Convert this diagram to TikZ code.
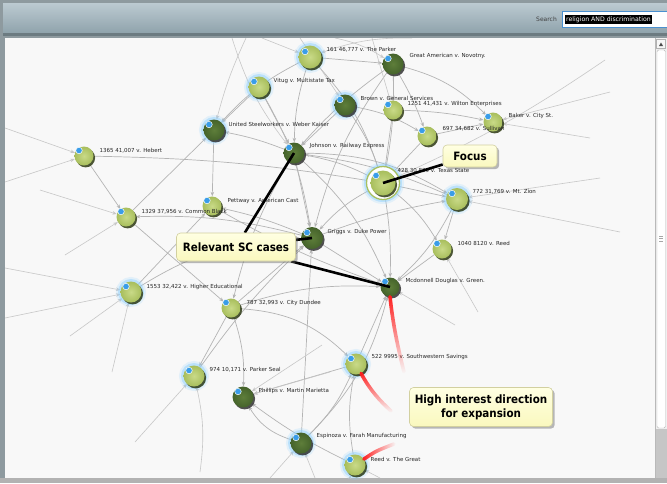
\documentclass[tikz,border=0pt]{standalone}
\usepackage{fontspec}
\setmainfont{DejaVu Sans}
\newfontfamily\callfont[FakeStretch=0.9]{DejaVu Sans}
\usetikzlibrary{arrows.meta,shadows,fadings,calc}
\definecolor{lgHi}{HTML}{C9DA88}
\definecolor{lgLo}{HTML}{A8BE5C}
\definecolor{dgHi}{HTML}{5E7E3A}
\definecolor{dgLo}{HTML}{45632B}
\definecolor{glowc}{HTML}{8CD0FF}
\definecolor{badgec}{HTML}{3A9DE8}
\definecolor{edgec}{HTML}{B4B4B4}
\definecolor{calltop}{HTML}{FFFFE2}
\definecolor{callbot}{HTML}{FAF8BE}
\definecolor{callborder}{HTML}{D2D0A0}
\definecolor{hdrtop}{HTML}{BCCAD1}
\definecolor{hdrbot}{HTML}{8FA3AC}
\definecolor{hdrline}{HTML}{6C7B81}
\definecolor{framec}{HTML}{8E9A9F}
\definecolor{canvasc}{HTML}{F8F8F8}
\definecolor{focusring}{HTML}{A8C060}
\definecolor{redc}{HTML}{FF1E1E}
\definecolor{fieldborder}{HTML}{4A90D0}
\definecolor{shadowc}{HTML}{2E3A14}
\pgfdeclarelayer{back}
\pgfdeclarelayer{edges}
\pgfdeclarelayer{lines}
\pgfdeclarelayer{front}
\pgfsetlayers{back,edges,main,lines,front}
\begin{document}
\begin{tikzpicture}[x=1pt,y=-1pt,
  ballbase/.style={circle, inner sep=0pt, minimum size=21pt},
  lball/.style={ballbase, inner color=lgHi, outer color=lgLo,
    preaction={fill=shadowc, opacity=0.85, transform canvas={shift={(1.6pt,-1.9pt)}}}},
  dball/.style={ballbase, inner color=dgHi, outer color=dgLo,
    preaction={fill=black!80, opacity=0.85, transform canvas={shift={(1.6pt,-1.9pt)}}}},
  glow/.style={preaction={draw=glowc, line width=9pt, draw opacity=0.2},
    preaction={draw=glowc, line width=5pt, draw opacity=0.45}},
  badge/.style={circle, inner sep=0pt, minimum size=6.5pt, fill=badgec, draw=white, line width=0.5pt},
  lab/.style={anchor=west, inner sep=0.5pt, font=\fontsize{5.5}{6}\selectfont, text=black!85},
  lnk/.style={draw=edgec, line width=0.7pt, -{Stealth[length=4.5pt,width=3.5pt]}},
  lnkfade/.style={draw=edgec!75, line width=0.6pt},
  callout/.style={rounded corners=4pt, top color=calltop, bottom color=callbot, draw=callborder,
    line width=0.6pt, drop shadow={shadow xshift=2.2pt, shadow yshift=-2.2pt, opacity=0.45, fill=black!60},
    font=\callfont\bfseries\fontsize{11.5}{14}\selectfont, align=center, inner sep=3pt},
  callline/.style={draw=black, line width=2.6pt},
  redline/.style={draw=redc, line width=3.6pt, line cap=round}
]
\useasboundingbox (0,0) rectangle (667,483);

% ---------- frame, header, canvas, scrollbar ----------
\begin{pgfonlayer}{back}
\fill[framec] (0,0) rectangle (667,483);
\shade[top color=hdrtop, bottom color=hdrbot] (3,3) rectangle (667,33);
\fill[hdrline] (3,33) rectangle (667,36);
\fill[canvasc] (5,38) rectangle (655,478);
\fill[gray!12] (655,38) rectangle (667,478);
\draw[gray!55] (655.5,38) -- (655.5,478);
\draw[gray!55, fill=white, rounded corners=1.5pt] (657,50) rectangle (665.5,428);
\fill[gray!45] (656,429) rectangle (667,478);
\fill[gray!60] (0,478) rectangle (667,483);
\end{pgfonlayer}

\node[draw=gray!60, fill=gray!6, minimum width=9pt, minimum height=9pt, inner sep=0pt] (upbtn) at (661,44) {};
\fill[black!70] (659,46) -- (663,46) -- (661,42.5) -- cycle;
\draw[gray!70, line width=0.5pt] (659,236) -- (663,236) (659,238.5) -- (663,238.5) (659,241) -- (663,241);

\node[anchor=east, inner sep=0pt, font=\fontsize{6}{7}\selectfont, text=black!75] (searchlbl) at (557,19.5) {Search};
\node[anchor=west, draw=fieldborder, line width=0.8pt, fill=white, minimum width=110pt, minimum height=16pt, inner sep=0pt] (field) at (562,19.5) {};
\node[anchor=west, fill=black, text=white, inner xsep=1pt, inner ysep=1.5pt, font=\fontsize{6.2}{7}\selectfont] (query) at (565,19.5) {religion AND discrimination};

% ---------- case nodes ----------
\node[glow, lball, minimum size=23pt] (parker) at (310,57) {};
\node[dball] (great) at (393,64) {};
\node[glow, lball] (vitug) at (259,87) {};
\node[glow, dball] (brown) at (345,105) {};
\node[lball, minimum size=19pt] (wilton) at (393,110) {};
\node[lball, minimum size=19pt] (baker) at (493,122) {};
\node[lball, minimum size=19pt] (sullivan) at (427,136) {};
\node[glow, dball] (steel) at (214,130) {};
\node[dball] (johnson) at (294,153) {};
\node[lball, minimum size=19pt] (hebert) at (84,156) {};
\node[glow, circle, fill=white, draw=focusring, line width=1.3pt, minimum size=33pt, inner sep=0pt] (focusring) at (383,183) {};
\node[lball, minimum size=25pt] (focus) at (383,183) {};
\node[glow, lball, minimum size=22pt] (mtzion) at (457,199) {};
\node[lball, minimum size=19pt] (pettway) at (212,206) {};
\node[lball, minimum size=19pt] (common) at (126,217) {};
\node[dball, minimum size=22pt] (griggs) at (312,238) {};
\node[lball, minimum size=19pt] (reedten) at (442,249) {};
\node[dball, minimum size=19pt] (mcd) at (390,287) {};
\node[glow, lball] (higher) at (131,292) {};
\node[lball, minimum size=19pt] (dundee) at (231,308) {};
\node[glow, lball] (swest) at (356,364) {};
\node[glow, lball] (pseal) at (194,376) {};
\node[dball] (phillips) at (243,397) {};
\node[glow, dball] (espinoza) at (301,443) {};
\node[glow, lball] (reedgreat) at (355,465) {};

\foreach \n in {parker,great,vitug,brown,wilton,baker,sullivan,steel,johnson,hebert,mtzion,pettway,common,griggs,reedten,mcd,higher,dundee,swest,pseal,phillips,espinoza,reedgreat}
  \node[badge] (b-\n) at ($(\n)+(-5,-5.5)$) {};
\node[badge] (b-focus) at ($(focus)+(-7,-7.5)$) {};

% ---------- labels ----------
\node[lab] (l-parker) at (326,50) {161 46,777 v. The Parker};
\node[lab] (l-great) at (409,56) {Great American v. Novotny.};
\node[lab] (l-vitug) at (273,81) {Vitug v. Multistate Tax};
\node[lab] (l-brown) at (360,98) {Brown v. General Services};
\node[lab] (l-wilton) at (407,104) {1251 41,431 v. Wilton Enterprises};
\node[lab] (l-baker) at (508,116) {Baker v. City St.};
\node[lab] (l-sullivan) at (442,129) {697 34,682 v. Sullivan};
\node[lab] (l-steel) at (228,124) {United Steelworkers v. Weber Kaiser};
\node[lab] (l-johnson) at (309,146) {Johnson v. Railway Express};
\node[lab] (l-hebert) at (99,151) {1365 41,007 v. Hebert};
\node[lab] (l-focus) at (397,171) {428 30,839 v. Texas State};
\node[lab] (l-mtzion) at (472,192) {772 31,769 v. Mt. Zion};
\node[lab] (l-pettway) at (227,201) {Pettway v. American Cast};
\node[lab] (l-common) at (141,212) {1329 37,956 v. Common Black};
\node[lab] (l-griggs) at (327,232) {Griggs v. Duke Power};
\node[lab] (l-reedten) at (457,243) {1040 8120 v. Reed};
\node[lab] (l-mcd) at (405,281) {Mcdonnell Douglas v. Green.};
\node[lab] (l-higher) at (146,287) {1553 32,422 v. Higher Educational};
\node[lab] (l-dundee) at (246,303) {787 32,993 v. City Dundee};
\node[lab] (l-swest) at (371,357) {522 9995 v. Southwestern Savings};
\node[lab] (l-pseal) at (209,370) {974 10,171 v. Parker Seal};
\node[lab] (l-phillips) at (258,391) {Phillips v. Martin Marietta};
\node[lab] (l-espinoza) at (316,436) {Espinoza v. Farah Manufacturing};
\node[lab] (l-reedgreat) at (370,459) {Reed v. The Great};

% ---------- gray citation edges ----------
\begin{pgfonlayer}{edges}
\begin{scope}
\clip (5,38) rectangle (655,478);
\draw[lnk] (parker) to[bend right=8] (johnson);
\draw[lnk] (vitug) to (johnson);
\draw[lnk] (parker) to (great);
\draw[lnk] (parker) to[bend left=12] (focus);
\draw[lnk] (great) to[bend left=6] (focus);
\draw[lnk] (great) to[bend right=6] (johnson);
\draw[lnk] (great) to[bend right=10] (griggs);
\draw[lnk] (great) to (wilton);
\draw[lnk] (great) to[bend left=15] (baker);
\draw[lnk] (brown) to (johnson);
\draw[lnk] (brown) to[bend left=8] (focus);
\draw[lnk] (brown) to[bend left=10] (sullivan);
\draw[lnk] (wilton) to (focus);
\draw[lnk] (wilton) to[bend left=5] (baker);
\draw[lnk] (sullivan) to (baker);
\draw[lnk] (sullivan) to (focus);
\draw[lnk] (johnson) to[bend right=5] (steel);
\draw[lnk] (vitug) to (steel);
\draw[lnk] (hebert) to[bend left=4] (focus);
\draw[lnk] (common) to (steel);
\draw[lnk] (johnson) to (griggs);
\draw[lnk] (johnson) to[bend left=8] (focus);
\draw[lnk] (johnson) to[bend left=12] (mcd);
\draw[lnk] (focus) to (mtzion);
\draw[lnk] (focus) to[bend right=10] (griggs);
\draw[lnk] (focus) to[bend left=5] (mcd);
\draw[lnk] (focus) to[bend left=10] (reedten);
\draw[lnk] (mtzion) to (reedten);
\draw[lnk] (mtzion) to[bend left=10] (mcd);
\draw[lnk] (griggs) to (mcd);
\draw[lnk] (griggs) to[bend right=5] (pettway);
\draw[lnk] (griggs) to[bend right=8] (common);
\draw[lnk] (higher) to[bend left=15] (griggs);
\draw[lnk] (dundee) to (griggs);
\draw[lnk] (dundee) to[bend left=10] (mcd);
\draw[lnk] (dundee) to[bend left=20] (swest);
\draw[lnk] (dundee) to[bend left=10] (phillips);
\draw[lnk] (dundee) to (pseal);
\draw[lnk] (pseal) to[bend left=5] (griggs);
\draw[lnk] (espinoza) to[bend left=20] (phillips);
\draw[lnk] (espinoza) to[bend right=10] (swest);
\draw[lnk] (espinoza) to[bend right=15] (mcd);
\draw[lnk] (espinoza) to (griggs);
\draw[lnk] (reedgreat) to[bend left=10] (swest);
\draw[lnk] (swest) to (mcd);
\draw[lnk] (reedten) to (mcd);
\draw[lnk] (swest) to (phillips);
\draw[lnk] (reedgreat) to[bend left=5] (phillips);
\draw[lnk] (higher) to (pettway);
\draw[lnk] (common) to (dundee);
\draw[lnk] (hebert) to (common);
\draw[lnk] (steel) to (pettway);
\draw[lnk] (johnson) to[bend right=8] (dundee);
\draw[lnk] (griggs) to[bend left=5] (mtzion);
\draw[lnk] (johnson) to[bend left=15] (mtzion);
\draw[lnk] (pettway) to[bend right=5] (mcd);
\draw[lnk] (parker) to[bend right=10] (steel);
\draw[lnk] (vitug) to[bend left=10] (griggs);
\draw[lnk] (great) to[bend left=5] (sullivan);
\draw[lnk] (mtzion) to[bend right=8] (johnson);
% edges that leave the visible canvas
\coordinate (t1) at (232,38); \coordinate (t2) at (246,38); \coordinate (t3) at (262,38);
\coordinate (t4) at (300,38); \coordinate (t5) at (335,38); \coordinate (t6) at (372,38);
\coordinate (t7) at (412,38);
\coordinate (r1) at (605,60); \coordinate (r2) at (610,92); \coordinate (r3) at (590,138);
\coordinate (r4) at (620,232); \coordinate (r5) at (600,178); \coordinate (r6) at (478,312);
\coordinate (r7) at (455,325);
\coordinate (l1) at (5,128); \coordinate (l2) at (5,182); \coordinate (l3) at (40,190);
\coordinate (l4) at (65,255); \coordinate (l5) at (5,268); \coordinate (l6) at (5,318);
\coordinate (l7) at (70,336); \coordinate (l8) at (112,372);
\coordinate (d1) at (135,442); \coordinate (d2) at (200,472); \coordinate (d3) at (270,478);
\coordinate (d4) at (315,478); \coordinate (d5) at (350,478); \coordinate (d6) at (380,478);
\coordinate (m1) at (330,372); \coordinate (m2) at (322,345);
\draw[lnk, lnkfade] (t1) to[bend right=10] (johnson);
\draw[lnk, lnkfade] (t2) to[bend right=5] (steel);
\draw[lnk, lnkfade] (t3) to (parker);
\draw[lnk, lnkfade] (t4) to (brown);
\draw[lnk, lnkfade] (t5) to[bend left=10] (great);
\draw[lnk, lnkfade] (t6) to (wilton);
\draw[lnk, lnkfade] (t7) to[bend right=10] (parker);
\draw[lnk, lnkfade] (r1) to[bend left=5] (focus);
\draw[lnk, lnkfade] (r2) to (baker);
\draw[lnk, lnkfade] (r3) to (baker);
\draw[lnk, lnkfade] (r4) to (mtzion);
\draw[lnk, lnkfade] (r5) to (mtzion);
\draw[lnk, lnkfade] (r6) to (reedten);
\draw[lnk, lnkfade] (r7) to (mcd);
\draw[lnk, lnkfade] (l1) to (hebert);
\draw[lnk, lnkfade] (l2) to (hebert);
\draw[lnk, lnkfade] (l3) to (common);
\draw[lnk, lnkfade] (l4) to (common);
\draw[lnk, lnkfade] (l5) to (higher);
\draw[lnk, lnkfade] (l6) to (higher);
\draw[lnk, lnkfade] (l7) to (higher);
\draw[lnk, lnkfade] (l8) to (higher);
\draw[lnk, lnkfade] (d1) to (pseal);
\draw[lnk, lnkfade] (d2) to[bend right=10] (pseal);
\draw[lnk, lnkfade] (d3) to (espinoza);
\draw[lnk, lnkfade] (d4) to (espinoza);
\draw[lnk, lnkfade] (d5) to (reedgreat);
\draw[lnk, lnkfade] (d6) to (reedgreat);
\draw[lnk, lnkfade] (m1) to (phillips);
\draw[lnk, lnkfade] (m2) to (phillips);
\end{scope}
\end{pgfonlayer}

% ---------- callouts ----------
\begin{pgfonlayer}{front}
\node[callout, minimum width=54pt, minimum height=22pt] (focusbox) at (470,156) {Focus};
\node[callout, minimum width=119pt, minimum height=28pt] (relbox) at (236,247) {Relevant SC cases};
\node[callout, minimum width=143pt, minimum height=39pt] (highbox) at (481,407) {High interest direction\\for expansion};
\end{pgfonlayer}

\begin{pgfonlayer}{lines}
\draw[callline] (focusbox) -- (focus.center);
\draw[callline] (relbox) -- (johnson.center);
\draw[callline] (relbox) -- (griggs.center);
\draw[callline] (relbox) -- (mcd.center);
\coordinate (r1end) at (404,372);
\coordinate (r2end) at (391,411);
\coordinate (r3end) at (394,444);
\draw[redline, path fading=south] (mcd.south) .. controls (393,325) and (398,348) .. (r1end);
\draw[redline, path fading=south] (swest) .. controls (370,390) and (380,401) .. (r2end);
\draw[redline, path fading=east] (reedgreat) .. controls (376,451) .. (r3end);
\end{pgfonlayer}
\end{tikzpicture}
\end{document}
